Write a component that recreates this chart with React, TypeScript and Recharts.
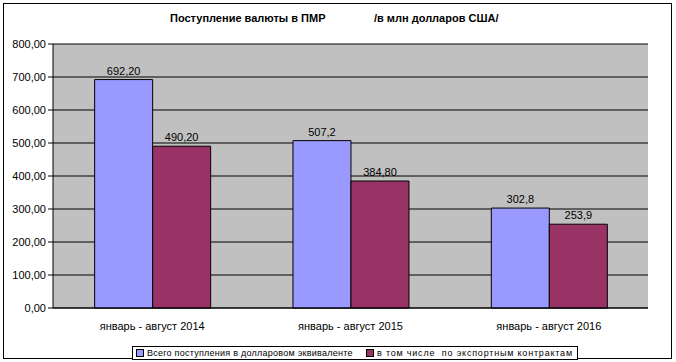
import { Bar, BarChart, CartesianGrid, LabelList, XAxis, YAxis } from 'recharts';

const periods = ['январь - август 2014', 'январь - август 2015', 'январь - август 2016'];
const totalValues = [692.2, 507.2, 302.8];
const exportValues = [490.2, 384.8, 253.9];
const totalLabels = ['692,20', '507,2', '302,8'];
const exportLabels = ['490,20', '384,80', '253,9'];
const yTicks = [0, 100, 200, 300, 400, 500, 600, 700, 800];

const series = [
  { key: 'total', name: 'Всего поступления в долларовом эквиваленте', color: '#9999ff', labels: totalLabels },
  { key: 'export', name: 'в том числе  по экспортным контрактам', color: '#993366', labels: exportLabels },
];

const rows = periods.map((period, i) => ({
  period,
  total: totalValues[i],
  export: exportValues[i],
}));

const FONT = '"Liberation Sans", Arial, sans-serif';

export default function App() {
  return (
    <div style={{ position: 'relative', width: 676, height: 362, background: '#fff', fontFamily: FONT }}>
      <style>{'body{margin:0}'}</style>
      <div
        style={{
          position: 'absolute',
          left: 3,
          top: 3,
          width: 669,
          height: 356,
          border: '1px solid #000',
          boxSizing: 'border-box',
        }}
      />
      <div style={{ position: 'absolute', left: 170, top: 12, fontSize: 11, fontWeight: 'bold', whiteSpace: 'pre' }}>
        Поступление валюты в ПМР
      </div>
      <div style={{ position: 'absolute', left: 374, top: 12, fontSize: 11, fontWeight: 'bold', whiteSpace: 'pre' }}>
        /в млн долларов США/
      </div>
      <div style={{ position: 'absolute', left: 0, top: 0 }}>
        <BarChart
          width={676}
          height={362}
          data={rows}
          margin={{ top: 44, right: 28, left: 0, bottom: 0 }}
          barCategoryGap="21%"
          barGap={0}
        >
          <CartesianGrid vertical={false} stroke="#000" fill="#c0c0c0" strokeOpacity={1} />
          <YAxis
            width={53}
            domain={[0, 800]}
            ticks={yTicks}
            interval={0}
            tickFormatter={(v: number) => v.toFixed(2).replace('.', ',')}
            axisLine={{ stroke: '#000' }}
            tickLine={{ stroke: '#000' }}
            tickSize={5}
            tick={{ fill: '#000', fontSize: 11, fontFamily: FONT }}
          />
          <XAxis
            dataKey="period"
            height={54}
            axisLine={{ stroke: '#000' }}
            tickLine={false}
            tickMargin={8}
            tick={{ fill: '#000', fontSize: 11, fontFamily: FONT }}
          />
          {series.map((s) => (
            <Bar key={s.key} dataKey={s.key} name={s.name} fill={s.color} stroke="#000" strokeWidth={1} isAnimationActive={false}>
              <LabelList
                position="top"
                content={(props: any) => {
                  const { x, y, width, index } = props;
                  return (
                    <text x={x + width / 2} y={y - 5} textAnchor="middle" fontSize={11} fontFamily={FONT} fill="#000">
                      {s.labels[index]}
                    </text>
                  );
                }}
              />
            </Bar>
          ))}
        </BarChart>
      </div>
      <div
        style={{
          position: 'absolute',
          left: 132,
          top: 346,
          width: 446,
          height: 14,
          border: '1px solid #000',
          boxSizing: 'border-box',
          background: '#fff',
          fontSize: 9,
          whiteSpace: 'pre',
        }}
      >
        {series.map((s, i) => (
          <div
            key={s.key}
            style={{
              position: 'absolute',
              top: 0,
              height: 12,
              left: i === 0 ? 3 : 233,
              display: 'flex',
              alignItems: 'center',
              letterSpacing: i === 0 ? 0.25 : 0.8,
            }}
          >
            <span style={{ width: 6, height: 6, background: s.color, border: '1px solid #000', marginRight: 3 }} />
            <span>{s.name}</span>
          </div>
        ))}
      </div>
    </div>
  );
}
